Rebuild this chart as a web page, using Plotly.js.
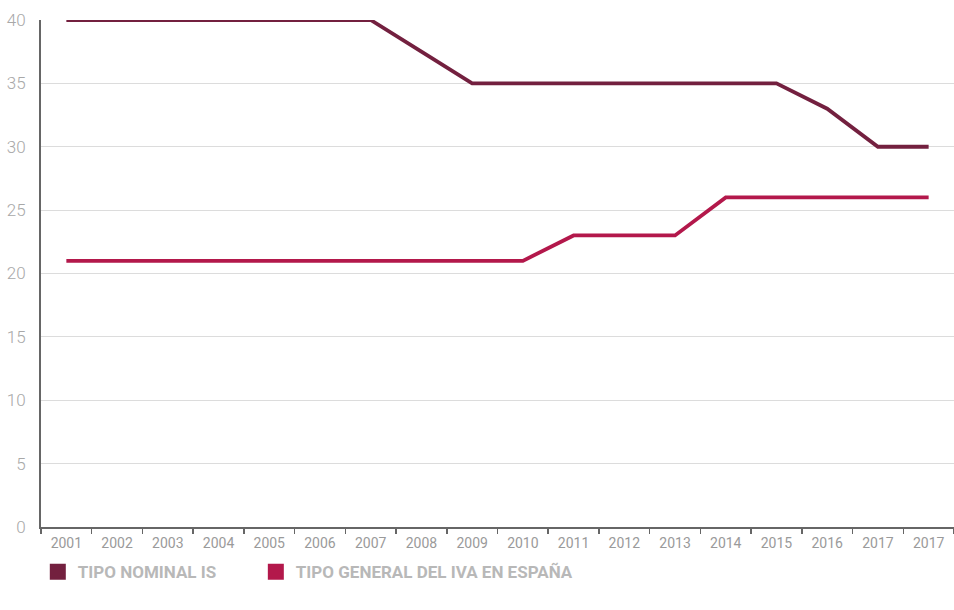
<!DOCTYPE html>
<html><head><meta charset="utf-8">
<script src="https://cdn.plot.ly/plotly-3.0.1.min.js"></script>
<style>html,body{margin:0;padding:0;background:#fff}#c{width:954px;height:610px}</style>
</head><body><div id="c"></div>
<script>
var years = ["2001","2002","2003","2004","2005","2006","2007","2008","2009","2010","2011","2012","2013","2014","2015","2016","2017","2017"];
var tipoNominalIS = [40,40,40,40,40,40,40,37.5,35,35,35,35,35,35,35,33,30,30];
var tipoGeneralIVA = [21,21,21,21,21,21,21,21,21,21,23,23,23,26,26,26,26,26];
var seriesNames = ["TIPO NOMINAL IS","TIPO GENERAL DEL IVA EN ESPAÑA"];
var colors = ["#73203f","#b3184b"];
var yTicks = [0,5,10,15,20,25,30,35,40];

var idx = years.map(function(_, i){ return i; });

var traces = [
  {x: idx, y: tipoNominalIS, mode: "lines", line: {color: colors[0], width: 3.8}, showlegend: false, hoverinfo: "skip"},
  {x: idx, y: tipoGeneralIVA, mode: "lines", line: {color: colors[1], width: 3.8}, showlegend: false, hoverinfo: "skip"},
  {x: [null], y: [null], mode: "markers", name: seriesNames[0], legend: "legend", marker: {symbol: "square", size: 18, color: colors[0]}},
  {x: [null], y: [null], mode: "markers", name: seriesNames[1], legend: "legend2", marker: {symbol: "square", size: 18, color: colors[1]}}
];

var legendFont = {family: "Roboto", size: 17, color: "#b8b8b8", weight: "bold"};

var layout = {
  width: 954, height: 610,
  margin: {l: 41, r: 0, t: 20, b: 83},
  paper_bgcolor: "#fff", plot_bgcolor: "#fff",
  xaxis: {
    range: [-0.5, 17.5], tickmode: "array", tickvals: idx, ticktext: years,
    ticks: "", showgrid: false, zeroline: false,
    showline: true, linecolor: "#666", linewidth: 2,
    tickfont: {family: "Roboto", size: 14, color: "#9a9a9a"},
    ticklabelstandoff: 2,
    minor: {ticks: "outside", tick0: -0.5, dtick: 1, ticklen: 5, tickcolor: "#666", tickwidth: 1.5, showgrid: false}
  },
  yaxis: {
    range: [0, 40], tickmode: "array", tickvals: yTicks,
    showgrid: true, gridcolor: "#dcdcdc", gridwidth: 1,
    zeroline: false, showline: true, linecolor: "#666", linewidth: 2,
    ticks: "", tickfont: {family: "Roboto", size: 17, color: "#a8a8a8", weight: 300},
    ticklabelstandoff: 10
  },
  showlegend: true,
  legend: {
    orientation: "h", x: -0.0035, xanchor: "left", y: -0.089, yanchor: "middle",
    font: legendFont, itemclick: false
  },
  legend2: {
    orientation: "h", x: 0.2353, xanchor: "left", y: -0.089, yanchor: "middle",
    font: legendFont, itemclick: false
  }
};

Plotly.newPlot("c", traces, layout, {displayModeBar: false, staticPlot: true});
</script></body></html>
